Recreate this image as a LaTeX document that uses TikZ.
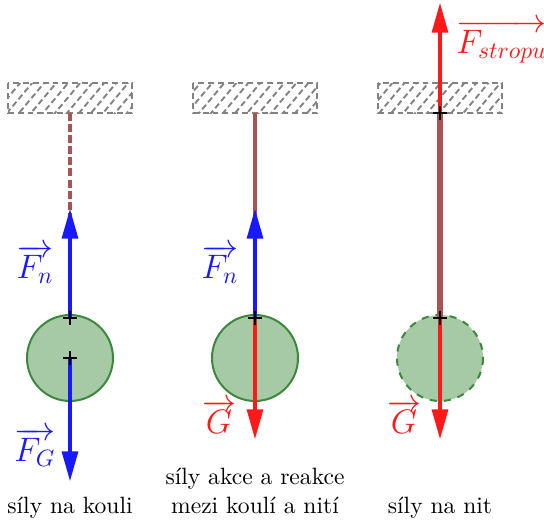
\documentclass[tikz,border=0pt]{standalone}
\usetikzlibrary{arrows.meta,patterns.meta}
\definecolor{nitcolor}{RGB}{168,84,84}
\definecolor{koulefill}{RGB}{166,202,166}
\definecolor{kouledraw}{RGB}{62,136,62}
\definecolor{silamodra}{RGB}{25,25,255}
\definecolor{silacervena}{RGB}{255,25,25}
\definecolor{strop}{RGB}{130,130,130}
\tikzset{
  stropbox/.style={draw=strop, line width=0.6pt, dash pattern=on 2.5pt off 1.7pt,
    pattern={Lines[angle=50,distance=3.9pt,line width=0.8pt]}, pattern color=strop},
  nit/.style={draw=nitcolor, line width=1.7pt},
  koule/.style={draw=kouledraw, fill=koulefill, line width=0.85pt},
  sila/.style={line width=2.1pt, -{Triangle[length=13pt,width=6.5pt]}},
  popis/.style={font=\fontsize{14}{17}\selectfont, inner sep=0pt},
  krizek/.pic={\draw[black, line width=1.1pt] (-7,0) -- (7,0) (0,-7) -- (0,7);}
}
\begin{document}
\begin{tikzpicture}[x=0.424pt,y=-0.424pt]
    \useasboundingbox (0,0) rectangle (544,522);
    % sily na kouli
    \coordinate (s1) at (70,113);
    \coordinate (h1) at (70,318);
    \coordinate (k1) at (70,358);
    \coordinate (n1) at (70,208);
    \coordinate (g1) at (70,482);
    \draw [stropbox] (8,83) rectangle (132,113);
    \draw [nit, line width=2.1pt, dash pattern=on 3.4pt off 1.3pt] (s1) -- (h1);
    \draw [koule] (k1) circle (43);
    \draw [sila, silamodra] (h1) -- (n1);
    \draw [sila, silamodra] (k1) -- (g1);
    \pic at (h1) {krizek};
    \pic at (k1) {krizek};
    \node [popis, silamodra] (fn1) at (35,264) {$\overrightarrow{F_n}$};
    \node [popis, silamodra] (fg1) at (35,447) {$\overrightarrow{F_G}$};
    \node [anchor=base] (t1) at (70,513) {síly na kouli};
    % akce a reakce
    \coordinate (s2) at (255,113);
    \coordinate (h2) at (255,318);
    \coordinate (k2) at (255,358);
    \coordinate (n2) at (255,208);
    \coordinate (g2) at (255,440);
    \draw [stropbox] (193,83) rectangle (317,113);
    \draw [nit] (s2) -- (h2);
    \draw [koule] (k2) circle (43);
    \draw [sila, silamodra] (h2) -- (n2);
    \draw [sila, silacervena] (h2) -- (g2);
    \pic at (h2) {krizek};
    \node [popis, silamodra] (fn2) at (220,264) {$\overrightarrow{F_n}$};
    \node [popis, silacervena] (gg2) at (219,417) {$\overrightarrow{G}$};
    \node [anchor=base, align=center] (t2) at (255,513) {síly akce a reakce\\mezi koulí a nití};
    % sily na nit
    \coordinate (s3) at (440,113);
    \coordinate (h3) at (440,318);
    \coordinate (k3) at (440,358);
    \coordinate (f3) at (440,2);
    \coordinate (g3) at (440,440);
    \draw [stropbox] (378,83) rectangle (502,113);
    \draw [koule, dashed] (k3) circle (43);
    \draw [sila, silacervena] (s3) -- (f3);
    \draw [sila, silacervena] (h3) -- (g3);
    \draw [nit, line width=2.5pt] (s3) -- (h3);
    \pic at (s3) {krizek};
    \pic at (h3) {krizek};
    \node [popis, silacervena, anchor=west] (fs3) at (456,42) {$\overrightarrow{F_{stropu}}$};
    \node [popis, silacervena] (gg3) at (404,417) {$\overrightarrow{G}$};
    \node [anchor=base] (t3) at (440,513) {síly na nit};
\end{tikzpicture}
\end{document}
